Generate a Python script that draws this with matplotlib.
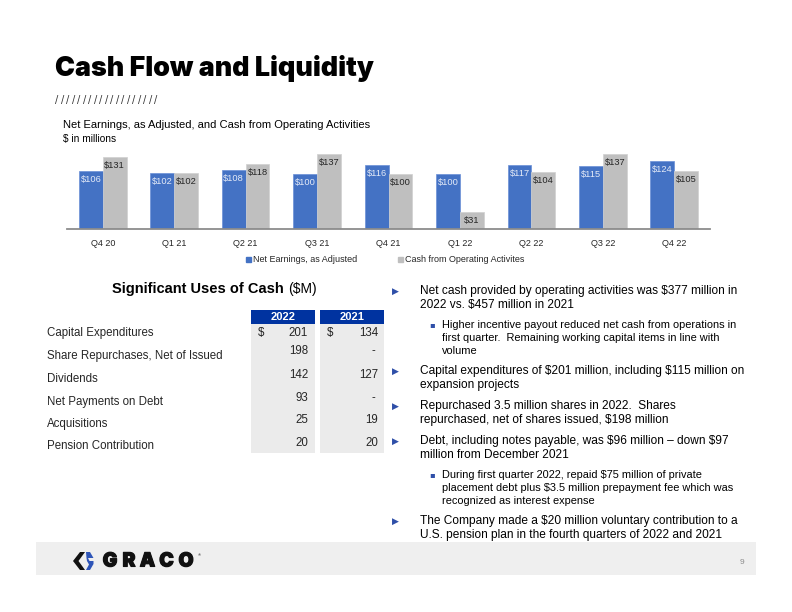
import matplotlib
matplotlib.use("Agg")
import matplotlib.pyplot as plt
import matplotlib.patheffects as pe
import numpy as np
from matplotlib.patches import Rectangle, Polygon

# ---------------- data ----------------
quarters = ['Q4 20', 'Q1 21', 'Q2 21', 'Q3 21', 'Q4 21', 'Q1 22', 'Q2 22', 'Q3 22', 'Q4 22']
net_earnings = [106, 102, 108, 100, 116, 100, 117, 115, 124]
cash_ops = [131, 102, 118, 137, 100, 31, 104, 137, 105]
series_names = ['Net Earnings, as Adjusted', 'Cash from Operating Activites']

table_rows = ['Capital Expenditures', 'Share Repurchases, Net of Issued', 'Dividends',
              'Net Payments on Debt', 'Acquisitions', 'Pension Contribution']
table_years = ['2022', '2021']
vals_2022 = ['201', '198', '142', '93', '25', '20']
vals_2021 = ['134', '-', '127', '-', '19', '20']

bullets = [
    (0, ['Net cash provided by operating activities was $377 million in',
         '2022 vs. $457 million in 2021']),
    (1, ['Higher incentive payout reduced net cash from operations in',
         'first quarter.  Remaining working capital items in line with',
         'volume']),
    (0, ['Capital expenditures of $201 million, including $115 million on',
         'expansion projects']),
    (0, ['Repurchased 3.5 million shares in 2022.  Shares',
         'repurchased, net of shares issued, $198 million']),
    (0, ['Debt, including notes payable, was $96 million \u2013 down $97',
         'million from December 2021']),
    (1, ['During first quarter 2022, repaid $75 million of private',
         'placement debt plus $3.5 million prepayment fee which was',
         'recognized as interest expense']),
    (0, ['The Company made a $20 million voluntary contribution to a',
         'U.S. pension plan in the fourth quarters of 2022 and 2021']),
]

# ---------------- style ----------------
FONT = ['Liberation Sans', 'DejaVu Sans']
plt.rcParams['font.family'] = FONT
plt.rcParams['text.parse_math'] = False
BLUE = '#4472C4'
GRAY = '#BFBFBF'
DARK = '#262626'
HDR_BLUE = '#0033A0'
BUL_BLUE = '#2F4FA8'

W, H = 792, 612
fig = plt.figure(figsize=(W / 100, H / 100), dpi=100)

# overlay axes in pixel coordinates
ov = fig.add_axes([0, 0, 1, 1])
ov.set_xlim(0, W)
ov.set_ylim(H, 0)
ov.axis('off')

# Title
ov.text(55, 76.5, 'Cash Flow and Liquidity', fontsize=19.3, fontweight='black',
        family=['Inter', 'Liberation Sans'], color='black', va='baseline', ha='left')
for k in range(19):
    ov.text(57 + k * 5.5, 100, '/', fontsize=7, color='#333333', va='center', ha='center',
            family=['DejaVu Sans'])

# Chart titles
ov.text(63, 125, 'Net Earnings, as Adjusted, and Cash from Operating Activities',
        fontsize=8, color='black', va='center', ha='left')
ov.text(63, 139, '$ in millions', fontsize=7.3, color='black', va='center', ha='left')

# ---------------- bar chart ----------------
x0, x1, ybase, ytop = 67, 710, 229, 141
ax = fig.add_axes([x0 / W, 1 - ybase / H, (x1 - x0) / W, (ybase - ytop) / H])
ax.set_xlim(-0.5, len(quarters) - 0.5)
ax.set_ylim(0, 160)
ax.patch.set_alpha(0)
x = np.arange(len(quarters))
bw = 1 / 3
ax.bar(x - bw / 2, net_earnings, bw, color=BLUE, edgecolor='#6a8fd6', linewidth=0.5,
       label=series_names[0])
ax.bar(x + bw / 2, cash_ops, bw, color=GRAY, edgecolor='#d0d0d0', linewidth=0.5,
       label=series_names[1])
for xi, v in zip(x - bw / 2, net_earnings):
    ax.annotate(f'${v}', (xi, v), xytext=(0, -8.5), textcoords='offset pixels',
                ha='center', va='center', fontsize=6.7, color='#e4eaf7', clip_on=False)
for xi, v in zip(x + bw / 2, cash_ops):
    ax.annotate(f'${v}', (xi, v), xytext=(0, -8.5), textcoords='offset pixels',
                ha='center', va='center', fontsize=6.7, color=DARK, clip_on=False)
for s in ['top', 'right', 'left']:
    ax.spines[s].set_visible(False)
ax.spines['bottom'].set_color('#8c8c8c')
ax.spines['bottom'].set_linewidth(1.3)
ax.set_yticks([])
ax.set_xticks(x)
ax.set_xticklabels(quarters, fontsize=6.5, color=DARK)
ax.tick_params(axis='x', length=0, pad=7)

# legend (manual)
for (lx, name, col) in [(248, series_names[0], BLUE), (400, series_names[1], GRAY)]:
    ov.add_patch(Rectangle((lx - 2.5, 256.5), 5, 5, color=col))
    ov.text(lx + 5, 259, name, fontsize=6.5, color=DARK, va='center', ha='left')

# ---------------- table ----------------
ov.text(112, 289, 'Significant Uses of Cash', fontsize=10.5, fontweight='bold',
        color='black', va='center', ha='left')
ov.text(288, 289, '($M)', fontsize=10, color='black', va='center', ha='left')

cols = [(251, 315), (320, 384)]
for (cl, cr), yr in zip(cols, table_years):
    ov.add_patch(Rectangle((cl, 324), cr - cl, 129, color='#ebebeb', lw=0))
    ov.add_patch(Rectangle((cl, 310), cr - cl, 14, color=HDR_BLUE, lw=0))
    ov.text((cl + cr) / 2, 317.5, yr, fontsize=8, fontweight='bold', color='white',
            ha='center', va='center')

label_y = [333, 356, 379, 402, 424, 446]
val_y = [333, 351, 375, 398, 420, 443]
for lab, ly in zip(table_rows, label_y):
    ov.text(47, ly, lab, fontsize=8.3, color=DARK, ha='left', va='center')
for v22, v21, vy in zip(vals_2022, vals_2021, val_y):
    ov.text(308, vy, v22, fontsize=8.3, color=DARK, ha='right', va='center')
    ov.text(378 if v21 != '-' else 375, vy, v21, fontsize=8.3, color=DARK, ha='right', va='center')
ov.text(258, 333, '$', fontsize=8.3, color=DARK, ha='left', va='center')
ov.text(327, 333, '$', fontsize=8.3, color=DARK, ha='left', va='center')

# ---------------- bullets ----------------
y = 291
for i, (lvl, lines) in enumerate(bullets):
    if lvl == 0:
        ov.text(395.5, y, '\u25B6', fontsize=6.5, color=BUL_BLUE, family=['DejaVu Sans'],
                ha='center', va='center')
        for j, ln in enumerate(lines):
            ov.text(420, y + j * 14, ln, fontsize=8.55, color='black', ha='left', va='center')
        y += 14 * len(lines)
    else:
        ov.text(432, y, '\u25AA', fontsize=6, color=BUL_BLUE, family=['DejaVu Sans'],
                ha='center', va='center')
        for j, ln in enumerate(lines):
            ov.text(442, y + j * 13, ln, fontsize=7.9, color='black', ha='left', va='center')
        y += 13 * len(lines)
    if i + 1 < len(bullets):
        nxt = bullets[i + 1][0]
        y += 7 if nxt == 0 else 6

# ---------------- footer ----------------
ov.add_patch(Rectangle((36, 542), 720, 33, color='#efefef', lw=0))
ov.text(742, 563, '9', fontsize=6, color='#8c8c8c', ha='center', va='center')
# logo
ov.add_patch(Polygon([(80, 552), (85, 552), (78.5, 561), (85, 570), (80, 570), (73, 561)],
                     closed=True, color='#111111', lw=0))
ov.add_patch(Polygon([(86, 552), (90, 552), (93.5, 558), (88, 558), (89.5, 561), (93.5, 561),
                      (93.5, 564), (90, 570), (86, 570), (89, 564.5), (87, 561), (86.5, 558)],
                     closed=True, color='#2E55B8', lw=0))
logo_letters = 'GRACO'
logo_x = [110, 129, 147.5, 166.5, 186]
for ch, lx in zip(logo_letters, logo_x):
    ov.text(lx, 561.5, ch, fontsize=14, fontweight='black', family=['Inter', 'DejaVu Sans'],
            color='#111111', ha='center', va='center',
            path_effects=[pe.withStroke(linewidth=0.8, foreground='#111111')])
ov.text(198, 555, '\u00AE', fontsize=3, color='#111111', ha='left', va='center')

fig.savefig('out.png', dpi=100)
